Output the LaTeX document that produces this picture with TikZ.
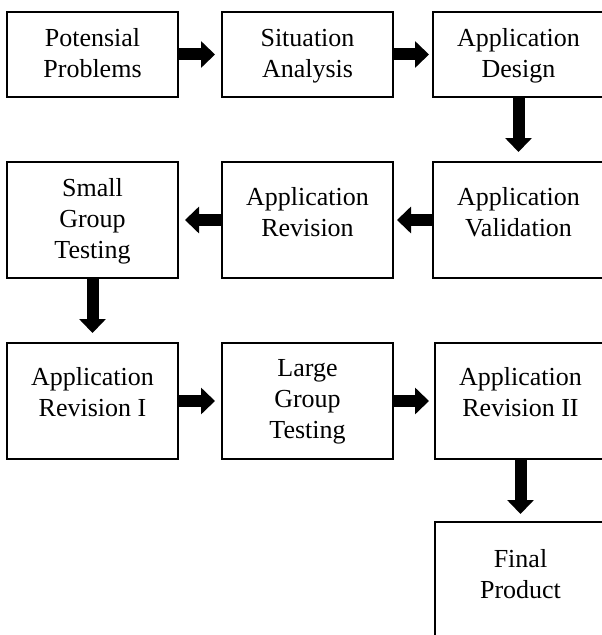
\documentclass[tikz,border=0pt]{standalone}
\usepackage{fontspec}
\setmainfont{Liberation Serif}
\usetikzlibrary{arrows.meta}
\begin{document}
\begin{tikzpicture}[x=0.75pt,y=-0.75pt,
  box/.style={draw, line width=1.5pt, minimum width=128.25pt, inner sep=0pt},
  shortbox/.style={box, minimum height=63.75pt},
  tallbox/.style={box, minimum height=87pt},
  txt/.style={anchor=north, inner sep=0pt, align=center, font=\fontsize{19.5}{23.25}\selectfont},
  flow/.style={line width=9pt, -{Triangle[length=10.5pt,width=19.5pt]}}]
\useasboundingbox (0,0) rectangle (601,635);
% boxes
\node[shortbox] (b1) at (92.5,54.5) {};
\node[shortbox] (b2) at (307.5,54.5) {};
\node[shortbox] (b3) at (518.5,54.5) {};
\node[tallbox] (b4) at (92.5,220) {};
\node[tallbox] (b5) at (307.5,220) {};
\node[tallbox] (b6) at (518.5,220) {};
\node[tallbox] (b7) at (92.5,401) {};
\node[tallbox] (b8) at (307.5,401) {};
\node[tallbox] (b9) at (520.5,401) {};
\node[tallbox] (b10) at (520.5,580) {};
% texts
\node[txt] (t1) at (92.5,25) {\strut Potensial\\\strut Problems};
\node[txt] (t2) at (307.5,25) {\strut Situation\\\strut Analysis};
\node[txt] (t3) at (518.5,25) {\strut Application\\\strut Design};
\node[txt] (t4) at (92.5,175) {\strut Small\\\strut Group\\\strut Testing};
\node[txt] (t5) at (307.5,183.3) {\strut Application\\\strut Revision};
\node[txt] (t6) at (518.5,183.3) {\strut Application\\\strut Validation};
\node[txt] (t7) at (92.5,363.3) {\strut Application\\\strut Revision I};
\node[txt] (t8) at (307.5,355) {\strut Large\\\strut Group\\\strut Testing};
\node[txt] (t9) at (520.5,363.3) {\strut Application\\\strut Revision II};
\node[txt] (t10) at (520.5,545.3) {\strut Final\\\strut Product};
% connectors
\draw[flow, shorten >=4.5pt] (b1) -- (b2);
\draw[flow, shorten >=2.25pt] (b2) -- (b3);
\draw[flow, shorten >=6.75pt] (b3) -- (b6);
\draw[flow, shorten >=2.25pt] (b6) -- (b5);
\draw[flow, shorten >=4.5pt] (b5) -- (b4);
\draw[flow, shorten >=6.75pt] (b4) -- (b7);
\draw[flow, shorten >=4.5pt] (b7) -- (b8);
\draw[flow, shorten >=3.75pt] (b8) -- (b9);
\draw[flow, shorten >=5.25pt] (b9) -- (b10);
\end{tikzpicture}
\end{document}
